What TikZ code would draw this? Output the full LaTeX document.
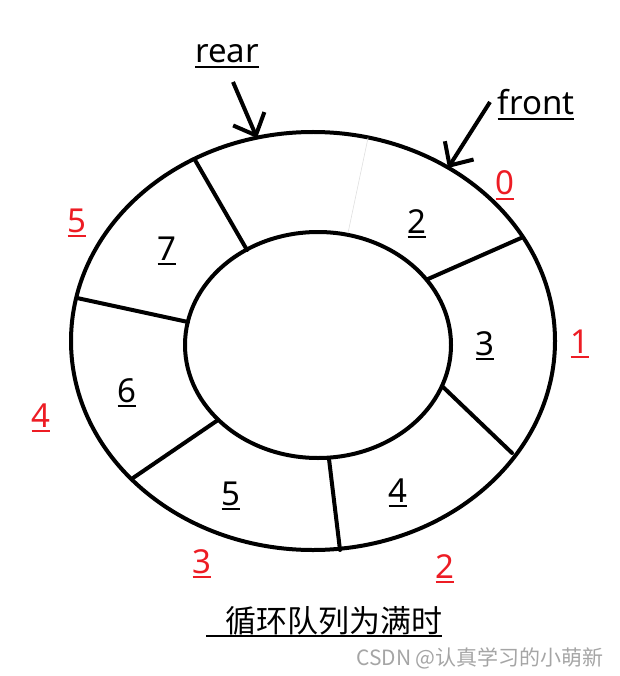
\documentclass[tikz,border=0pt]{standalone}
\usepackage{fontspec}
\setmainfont{Noto Sans}
\newfontfamily\cjk{Noto Sans CJK SC}
\usepackage{tikz}
\usetikzlibrary{arrows.meta}
\usepackage{tkz-euclide}
\definecolor{idxred}{RGB}{237,28,36}
\definecolor{markgray}{RGB}{165,165,165}
\newcommand{\ulbox}[1]{\setbox0\hbox{#1}\rlap{\rule[-5pt]{\wd0}{2pt}}\box0}
\tikzset{
  cell/.style={font=\fontsize{33}{40}\selectfont, anchor=base, inner sep=0pt},
  idx/.style={cell, text=idxred},
  ptr/.style={line width=4pt, -{Straight Barb[length=18pt,width=34pt,line width=4pt]}},
}

\begin{document}
\begin{tikzpicture}[x=1pt, y=-1pt]
        \useasboundingbox (0,0) rectangle (619,676);
        % ring
        \draw[line width=4pt] (313,341) ellipse [x radius=242pt, y radius=209pt];
        \draw[line width=4pt] (318,345) ellipse [x radius=133pt, y radius=113pt];
        % dividers, outer end then inner end
        \tkzDefPoint(195,160){P7}  \tkzDefPoint(247,250){Q7}
        \tkzDefPoint(77,298){P6}   \tkzDefPoint(188,322){Q6}
        \tkzDefPoint(133,478){P5}  \tkzDefPoint(218,420){Q5}
        \tkzDefPoint(340,550){P4}  \tkzDefPoint(329,459){Q4}
        \tkzDefPoint(512,453){P3}  \tkzDefPoint(443,387){Q3}
        \tkzDefPoint(521,238){P2}  \tkzDefPoint(428,279){Q2}
        \tkzDefPoint(368,138){P1}  \tkzDefPoint(348,233){Q1}
        \tkzDrawSegments[black, line width=4pt](P7,Q7 P6,Q6 P5,Q5 P4,Q4 P3,Q3 P2,Q2)
        \tkzDrawSegments[gray!25, line width=0.6pt](P1,Q1)
        % slot contents
        \node[cell] (s2) at (417,233) {\ulbox{2}};
        \node[cell] (s3) at (485,355) {\ulbox{3}};
        \node[cell] (s4) at (398,502) {\ulbox{4}};
        \node[cell] (s5) at (231,505) {\ulbox{5}};
        \node[cell] (s6) at (127,402) {\ulbox{6}};
        \node[cell] (s7) at (167,260) {\ulbox{7}};
        % indices
        \node[idx] (i0) at (505,195) {\ulbox{0}};
        \node[idx] (i1) at (580,353) {\ulbox{1}};
        \node[idx] (i2) at (445,578) {\ulbox{2}};
        \node[idx] (i3) at (202,573) {\ulbox{3}};
        \node[idx] (i4) at (41,427) {\ulbox{4}};
        \node[idx] (i5) at (77,232) {\ulbox{5}};
        % pointers
        \node[cell] (rear) at (227,63) {\ulbox{rear}};
        \node[cell] (front) at (536,115) {\ulbox{front}};
        \tkzDefPoint(233,82){R0}  \tkzDefPoint(257,138){R1}
        \tkzDefPoint(490,102){F0} \tkzDefPoint(448,168){F1}
        \draw[ptr] (R0) -- (R1);
        \draw[ptr] (F0) -- (F1);
        % caption
        \node[cell, anchor=base west, font=\cjk\fontsize{31}{36}\selectfont] (cap) at (206,632)
            {\ulbox{\hspace{19pt}循环队列为满时}};
        \node[anchor=base east, inner sep=0pt, text=markgray, font=\cjk\fontsize{21}{24}\selectfont] (mark) at (604,665)
            {CSDN @认真学习的小萌新};
    \end{tikzpicture}
\end{document}
